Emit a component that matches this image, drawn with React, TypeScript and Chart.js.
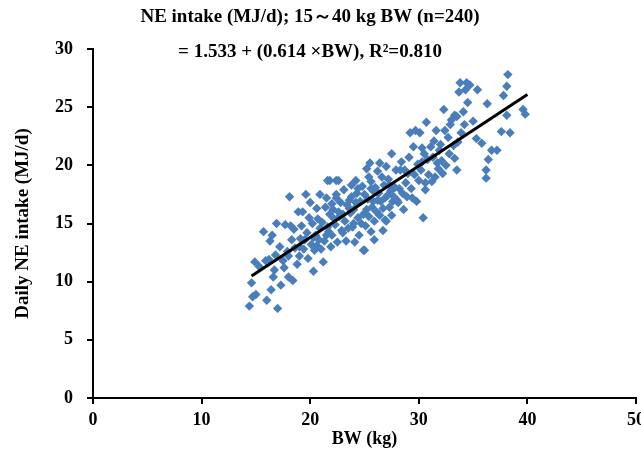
import React, { useEffect, useRef } from "react";
import { Chart, registerables } from "chart.js";

Chart.register(...registerables);

// Body weight (kg) of each observation
const bw: number[] = [
  14.4, 14.7, 15.0, 14.6, 16.0, 16.4, 17.3, 17.0, 14.9, 15.3,
  16.6, 16.7, 18.0, 18.4, 15.7, 16.9, 17.7, 16.3, 16.8, 17.2,
  17.5, 17.9, 18.3, 18.6, 18.1, 18.9, 18.5, 16.2, 17.6, 18.8,
  16.5, 15.9, 18.2, 19.6, 19.2, 19.4, 19.8, 19.5, 19.0, 19.9,
  19.3, 19.7, 20.3, 20.1, 20.5, 20.2, 20.6, 20.9, 20.4, 20.8,
  20.7, 20.0, 20.9, 20.3, 19.1, 21.2, 21.5, 21.6, 21.0, 21.3,
  21.7, 21.1, 21.8, 21.4, 21.9, 22.4, 22.6, 22.4, 22.0, 22.3,
  22.7, 22.1, 22.8, 22.5, 22.9, 22.2, 21.6, 22.6, 21.8, 22.4,
  23.5, 23.9, 23.2, 23.7, 23.4, 23.8, 23.1, 24.2, 23.8, 24.0,
  24.4, 24.6, 24.3, 24.8, 24.9, 24.5, 24.1, 24.7, 23.3, 23.6,
  24.2, 24.9, 23.0, 25.0, 25.2, 25.5, 25.1, 25.4, 25.7, 25.3,
  25.8, 25.6, 25.9, 26.2, 26.4, 26.7, 26.9, 26.1, 26.5, 26.3,
  26.8, 26.6, 25.2, 25.9, 26.0, 25.6, 26.4, 25.4, 26.9, 25.8,
  27.0, 27.5, 27.7, 27.5, 27.0, 27.3, 27.8, 27.2, 27.9, 28.3,
  28.7, 28.1, 28.5, 28.8, 28.2, 28.6, 27.6, 28.9, 27.4, 28.4,
  27.1, 29.5, 29.7, 29.2, 30.1, 30.3, 29.8, 30.4, 30.6, 30.6,
  29.3, 29.6, 29.9, 29.1, 30.2, 30.8, 30.5, 30.0, 29.4, 30.9,
  30.7, 29.0, 30.3, 31.6, 31.5, 31.8, 32.1, 31.3, 31.9, 31.2,
  32.4, 32.7, 32.3, 32.0, 32.5, 32.8, 31.4, 32.2, 31.7, 32.9,
  31.1, 33.3, 33.5, 33.3, 33.0, 33.5, 33.8, 34.4, 34.7, 33.7,
  34.3, 35.4, 34.5, 35.0, 33.6, 33.9, 34.1, 33.2, 34.2, 35.3,
  35.8, 36.3, 36.7, 37.2, 36.4, 36.2, 36.2, 38.2, 38.1, 37.8,
  38.1, 39.6, 39.8, 37.6, 38.4, 20.6, 21.5, 22.0, 23.0, 23.6,
  24.4, 25.0, 25.6, 26.2, 26.7, 27.3, 28.0, 19.0, 18.0, 24.0,
];

// Daily NE intake (MJ/d) of each observation
const ne: number[] = [
  7.9, 8.7, 8.9, 9.9, 8.4, 9.3, 9.7, 7.7, 11.7, 11.3,
  10.4, 11.0, 10.4, 10.1, 14.3, 15.0, 14.9, 13.5, 12.3, 13.0,
  11.8, 12.6, 13.6, 12.9, 17.3, 16.0, 14.5, 11.9, 11.2, 11.5,
  14.0, 11.8, 14.8, 17.5, 14.8, 12.8, 12.0, 13.6, 12.2, 15.5,
  16.0, 14.2, 10.9, 13.2, 14.0, 15.0, 16.3, 17.5, 12.7, 13.6,
  15.4, 16.8, 14.6, 13.8, 13.7, 11.7, 17.2, 18.7, 12.8, 13.5,
  14.3, 15.1, 15.8, 16.4, 13.0, 17.2, 18.7, 17.5, 14.0, 14.9,
  15.6, 16.2, 16.8, 13.4, 14.4, 15.4, 14.7, 16.0, 18.7, 18.7,
  14.6, 14.7, 15.2, 15.9, 16.6, 17.3, 17.9, 18.7, 18.3, 16.2,
  15.5, 16.9, 17.6, 18.2, 12.7, 14.0, 13.4, 15.0, 13.5, 16.3,
  16.8, 15.8, 15.8, 12.7, 19.7, 20.2, 14.8, 15.6, 16.4, 17.1,
  17.8, 18.6, 13.6, 19.5, 20.2, 14.4, 15.3, 16.0, 16.9, 17.6,
  18.3, 19.0, 16.2, 15.2, 18.1, 14.3, 15.7, 19.0, 17.2, 16.9,
  19.9, 21.0, 17.3, 15.7, 15.2, 16.4, 18.1, 18.8, 19.6, 19.6,
  19.6, 16.8, 17.6, 18.5, 18.0, 16.2, 16.9, 17.3, 17.8, 20.3,
  17.4, 21.6, 23.0, 22.8, 22.8, 21.5, 16.9, 15.5, 17.9, 18.5,
  18.0, 19.2, 20.1, 20.7, 19.6, 20.5, 21.0, 18.7, 17.2, 19.2,
  23.7, 19.3, 20.3, 23.0, 19.0, 19.7, 20.4, 20.7, 21.3, 18.6,
  23.0, 22.4, 24.8, 21.8, 20.0, 21.0, 22.1, 19.3, 20.2, 23.5,
  21.6, 20.6, 19.6, 24.3, 23.9, 24.2, 27.1, 27.1, 26.9, 26.3,
  26.5, 26.5, 25.4, 23.8, 22.0, 22.8, 24.6, 21.7, 23.5, 22.3,
  21.9, 25.3, 21.3, 21.3, 20.5, 19.6, 18.9, 27.8, 26.8, 26.0,
  24.3, 24.8, 24.4, 22.9, 22.8, 13.1, 14.0, 16.7, 14.2, 17.0,
  18.0, 17.5, 18.0, 17.0, 16.3, 18.3, 17.0, 13.0, 12.2, 15.0,
];

// Regression: NE = 1.533 + 0.614 * BW, drawn over the observed BW range
const fitIntercept = 1.533;
const fitSlope = 0.614;
const fitRange: number[] = [14.6, 40];

const xTicks: number[] = [0, 10, 20, 30, 40, 50];
const yTicks: number[] = [0, 5, 10, 15, 20, 25, 30];

const titleLines: string[] = [
  "NE intake (MJ/d); 15\uFF5E40 kg BW (n=240)",
  "= 1.533 + (0.614 \u00D7BW), R\u00B2=0.810",
];

const FONT = "'Liberation Serif', 'Times New Roman', serif";

const titlePlugin = {
  id: "twoLineTitle",
  afterDraw(chart: any) {
    const ctx = chart.ctx;
    ctx.save();
    ctx.fillStyle = "#000";
    ctx.font = `bold 19px ${FONT}`;
    ctx.textAlign = "center";
    ctx.textBaseline = "middle";
    ctx.fillText(titleLines[0], 310, 17);
    ctx.fillText(titleLines[1], 310, 52);
    ctx.restore();
  },
};

export default function App() {
  const ref = useRef<HTMLCanvasElement | null>(null);

  useEffect(() => {
    document.body.style.margin = "0";
    const canvas = ref.current;
    if (!canvas) return;
    const points = bw.map((x, i) => ({ x, y: ne[i] }));
    const line = fitRange.map((x) => ({ x, y: fitIntercept + fitSlope * x }));

    const chart = new Chart(canvas, {
      type: "scatter",
      data: {
        datasets: [
          {
            label: "obs",
            data: points,
            pointStyle: "rectRot",
            pointRadius: 4.7,
            backgroundColor: "#4a7ebb",
            borderColor: "#4a7ebb",
            borderWidth: 0,
            order: 2,
          },
          {
            label: "fit",
            type: "line",
            data: line,
            borderColor: "#000",
            borderWidth: 3,
            pointRadius: 0,
            showLine: true,
            fill: false,
            order: 1,
          } as any,
        ],
      },
      options: {
        responsive: false,
        animation: false,
        devicePixelRatio: 1,
        layout: { padding: { top: 49, right: 9, left: 0, bottom: 0 } },
        plugins: {
          legend: { display: false },
          tooltip: { enabled: false },
          title: { display: false },
        },
        scales: {
          x: {
            type: "linear",
            min: 0,
            max: 50,
            afterBuildTicks: (s: any) => {
              s.ticks = xTicks.map((v) => ({ value: v }));
            },
            afterFit: (s: any) => {
              s.height = 54;
              s.paddingLeft = 0;
              s.paddingRight = 0;
            },
            grid: {
              display: true,
              drawOnChartArea: false,
              drawTicks: true,
              tickLength: 6,
              color: "#000",
              lineWidth: 2,
            },
            border: { display: true, color: "#000", width: 2 },
            ticks: {
              color: "#000",
              font: { family: FONT, size: 18, weight: "bold" },
              padding: 6,
              maxRotation: 0,
            },
            title: {
              display: true,
              text: "BW (kg)",
              color: "#000",
              font: { family: FONT, size: 18, weight: "bold" },
              padding: { top: 0, bottom: 2 },
            },
          },
          y: {
            type: "linear",
            min: 0,
            max: 30,
            afterBuildTicks: (s: any) => {
              s.ticks = yTicks.map((v) => ({ value: v }));
            },
            afterFit: (s: any) => {
              s.width = 93;
              s.paddingTop = 0;
              s.paddingBottom = 0;
            },
            grid: {
              display: true,
              drawOnChartArea: false,
              drawTicks: true,
              tickLength: 6,
              color: "#000",
              lineWidth: 2,
            },
            border: { display: true, color: "#000", width: 2 },
            ticks: {
              color: "#000",
              font: { family: FONT, size: 18, weight: "bold" },
              padding: 14,
            },
            title: {
              display: true,
              text: "Daily NE intake (MJ/d)",
              color: "#000",
              font: { family: FONT, size: 19, weight: "bold" },
              padding: { top: 12, bottom: 0 },
            },
          },
        },
      },
      plugins: [titlePlugin],
    });
    return () => chart.destroy();
  }, []);

  return (
    <div style={{ width: 641, height: 452, overflow: "hidden", background: "#fff" }}>
      <canvas ref={ref} width={645} height={452} style={{ display: "block" }} />
    </div>
  );
}
